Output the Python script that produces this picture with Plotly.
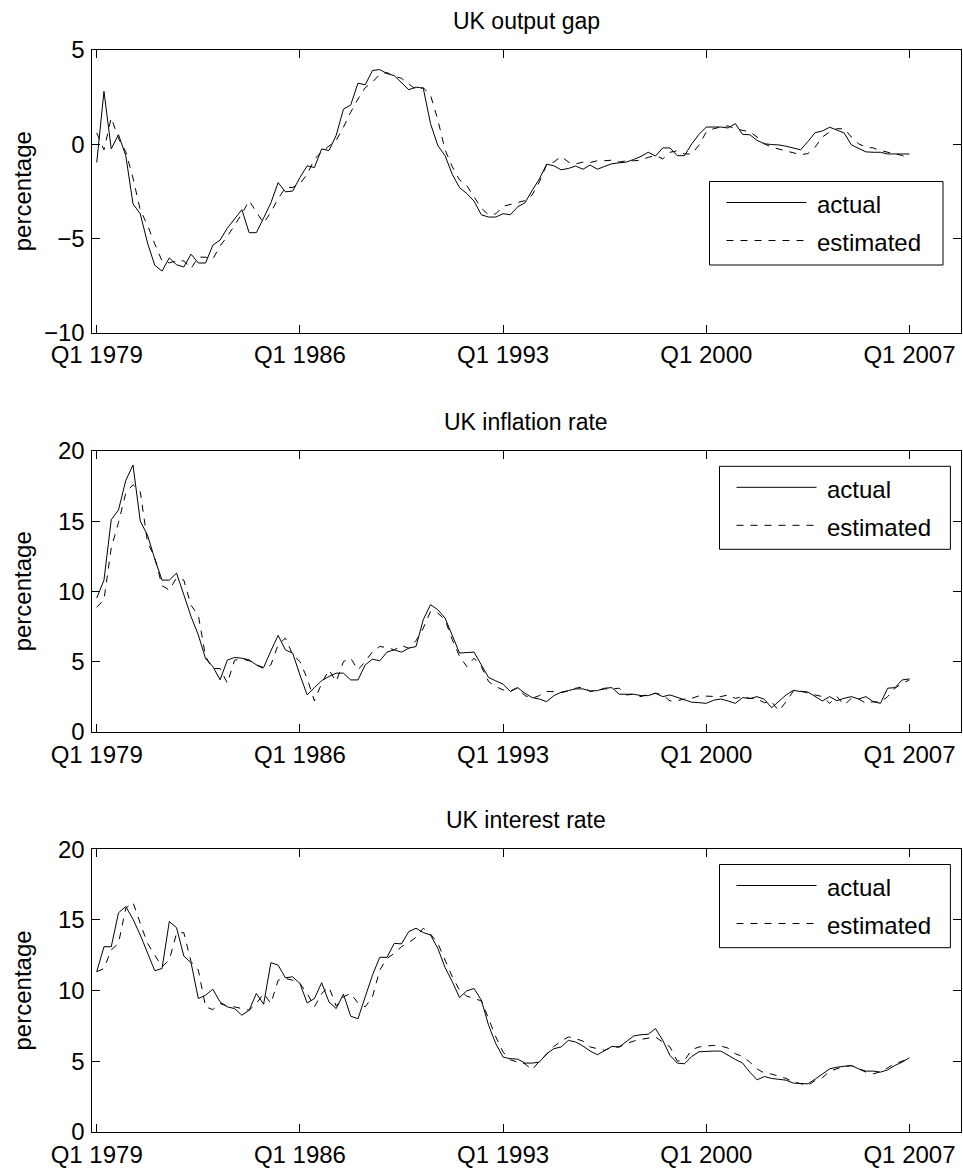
import plotly.graph_objects as go

# ---------------- data (quarterly, Q1 1979 .. Q1 2007) ----------------
quarter_index = list(range(1, 114))
tick_positions = [1, 29, 57, 85, 113]
tick_labels = ["Q1 1979", "Q1 1986", "Q1 1993", "Q1 2000", "Q1 2007"]

gap_actual = [
    -0.97, 2.8, -0.25, 0.5, -0.6, -3.17, -3.7, -5.25, -6.43, -6.74,
    -6.04, -6.4, -6.52, -5.84, -6.31, -6.31, -5.36, -5.09, -4.46, -3.96,
    -3.48, -4.7, -4.7, -3.92, -3.12, -2.04, -2.53, -2.49, -1.77, -1.15,
    -1.24, -0.25, -0.34, 0.47, 1.86, 2.08, 3.24, 3.15, 3.91, 3.96,
    3.75, 3.64, 3.24, 2.89, 3.03, 2.97, 1.09, -0.07, -0.61, -1.6,
    -2.31, -2.62, -3.03, -3.75, -3.87, -3.87, -3.69, -3.75, -3.33, -3.12,
    -2.46, -1.85, -1.06, -1.15, -1.36, -1.29, -1.16, -1.33, -1.11, -1.33,
    -1.18, -1.04, -0.99, -0.95, -0.81, -0.65, -0.43, -0.63, -0.2, -0.2,
    -0.61, -0.61, 0.02, 0.52, 0.91, 0.91, 0.91, 0.86, 1.09, 0.52,
    0.5, 0.2, 0.02, -0.02, -0.04, -0.11, -0.22, -0.3, 0.14, 0.61,
    0.7, 0.9, 0.75, 0.59, -0.04, -0.22, -0.41, -0.43, -0.43, -0.52,
    -0.52, -0.52, -0.52,
]
gap_estimated = [
    0.6, -0.3, 1.4, 0.3, -0.4, -1.8, -3.5, -4.3, -5.3, -6.2,
    -6.3, -6.2, -6.2, -6.6, -6.0, -6.0, -6.1, -5.4, -4.9, -4.3,
    -3.7, -3.0, -3.6, -4.2, -3.6, -2.9, -2.3, -2.3, -2.1, -1.6,
    -0.8, -0.4, -0.1, 0.2, 0.9, 1.7, 2.4, 3.0, 3.3, 3.7,
    3.8, 3.6, 3.5, 3.2, 2.9, 3.0, 2.6, 1.3, -0.3, -1.2,
    -1.9, -2.2, -2.8, -3.4, -3.75, -3.7, -3.3, -3.2, -3.1, -3.0,
    -2.7, -2.0, -1.1, -0.95, -0.65, -0.95, -1.05, -0.95, -0.97, -0.88,
    -0.88, -0.85, -0.95, -0.88, -0.88, -0.85, -0.7, -0.6, -0.78, -0.43,
    -0.35, -0.52, -0.52, -0.05, 0.65, 0.82, 0.91, 0.97, 0.82, 0.74,
    0.65, 0.38, 0.02, -0.16, -0.25, -0.34, -0.43, -0.56, -0.5, -0.16,
    0.38, 0.65, 0.82, 0.82, 0.38, 0.02, -0.16, -0.2, -0.34, -0.43,
    -0.48, -0.6, -0.8,
]

infl_actual = [
    9.52, 10.8, 15.1, 15.8, 17.9, 19.0, 15.0, 14.0, 12.3, 10.8,
    10.8, 11.3, 9.76, 8.2, 6.9, 5.2, 4.64, 3.7, 5.1, 5.29,
    5.24, 5.12, 4.76, 4.57, 5.76, 6.86, 5.83, 5.6, 4.05, 2.62,
    3.14, 3.64, 3.93, 4.17, 4.17, 3.69, 3.69, 4.76, 5.17, 5.05,
    5.67, 5.83, 5.67, 5.95, 6.07, 7.98, 9.05, 8.69, 8.1, 6.79,
    5.6, 5.64, 5.67, 4.76, 3.86, 3.62, 3.38, 2.86, 3.14, 2.74,
    2.43, 2.33, 2.14, 2.57, 2.81, 2.93, 3.05, 3.05, 2.9, 2.93,
    3.1, 3.14, 2.67, 2.67, 2.67, 2.57, 2.57, 2.74, 2.5, 2.62,
    2.43, 2.26, 2.1, 2.07, 2.02, 2.24, 2.33, 2.19, 2.02, 2.43,
    2.36, 2.5, 2.31, 1.71, 2.14, 2.62, 2.95, 2.86, 2.83, 2.5,
    2.19, 2.5, 2.21, 2.38, 2.5, 2.33, 2.5, 2.14, 2.02, 3.1,
    3.14, 3.69, 3.76,
]
infl_estimated = [
    8.86, 9.4, 13.1, 14.9, 17.0, 17.6, 17.1, 13.5, 12.4, 10.4,
    10.1, 10.95, 10.8, 9.0, 8.3, 5.36, 4.5, 4.5, 3.45, 5.1,
    5.2, 5.05, 4.76, 4.5, 4.76, 6.2, 6.67, 5.48, 5.0, 3.8,
    2.19, 3.45, 4.4, 3.57, 5.0, 5.24, 4.4, 5.0, 5.7, 6.07,
    6.0, 5.83, 6.14, 5.95, 6.48, 7.38, 8.57, 8.45, 7.98, 6.55,
    5.36, 4.64, 5.24, 4.64, 3.57, 3.21, 2.98, 2.9, 3.14, 2.57,
    2.38, 2.57, 2.86, 2.86, 2.79, 2.9, 3.1, 3.19, 2.86, 2.98,
    3.05, 3.05, 3.1, 2.62, 2.67, 2.5, 2.67, 2.74, 2.62, 2.19,
    2.21, 2.33, 2.38, 2.55, 2.55, 2.5, 2.5, 2.62, 2.38, 2.5,
    2.38, 2.33, 2.07, 2.14, 1.48, 2.14, 2.9, 2.9, 2.74, 2.62,
    2.5, 2.02, 2.5, 1.9, 2.38, 2.33, 2.02, 2.14, 2.1, 2.5,
    3.1, 3.45, 3.69,
]

rate_actual = [
    11.33, 13.1, 13.1, 15.5, 15.95, 15.05, 13.93, 12.63, 11.4, 11.56,
    14.88, 14.45, 12.44, 11.97, 9.43, 9.67, 10.09, 9.19, 8.84, 8.72,
    8.25, 8.6, 9.79, 9.03, 11.97, 11.8, 10.9, 10.97, 10.5, 9.12,
    9.43, 10.55, 9.19, 8.72, 9.74, 8.18, 8.0, 9.55, 11.09, 12.35,
    12.35, 13.34, 13.3, 14.17, 14.41, 14.1, 13.93, 12.99, 11.63, 10.62,
    9.5, 9.98, 10.14, 9.31, 7.54, 6.23, 5.28, 5.17, 5.14, 4.86,
    4.86, 4.93, 5.52, 5.88, 6.0, 6.47, 6.35, 6.07, 5.71, 5.45,
    5.76, 6.04, 6.0, 6.42, 6.78, 6.87, 6.9, 7.3, 6.47, 5.4,
    4.86, 4.81, 5.33, 5.66, 5.71, 5.71, 5.71, 5.4, 5.12, 4.86,
    4.22, 3.67, 3.91, 3.77, 3.7, 3.65, 3.44, 3.39, 3.39, 3.72,
    4.1, 4.45, 4.57, 4.62, 4.69, 4.45, 4.29, 4.29, 4.22, 4.38,
    4.69, 4.93, 5.24,
]
rate_estimated = [
    11.33, 11.56, 12.87, 13.34, 15.83, 16.23, 14.76, 13.34, 12.51, 11.68,
    12.16, 14.05, 14.1, 12.04, 11.45, 8.84, 8.65, 9.08, 8.89, 8.84,
    8.72, 8.6, 9.08, 9.79, 9.08, 10.73, 10.85, 10.73, 10.5, 9.79,
    8.84, 9.79, 10.26, 8.89, 9.55, 9.79, 9.12, 8.84, 9.55, 11.45,
    12.27, 12.63, 13.1, 13.39, 13.77, 14.41, 14.0, 13.34, 12.16, 10.97,
    10.02, 9.6, 9.43, 9.27, 8.01, 6.71, 5.64, 5.09, 4.93, 4.81,
    4.38, 5.0, 5.47, 6.04, 6.42, 6.71, 6.59, 6.42, 6.0, 5.88,
    5.76, 6.0, 6.0, 6.23, 6.42, 6.54, 6.61, 6.71, 6.35, 6.0,
    5.0, 5.05, 5.81, 6.0, 6.07, 6.11, 6.07, 5.92, 5.52, 5.33,
    4.93, 4.45, 4.15, 4.08, 3.93, 3.77, 3.53, 3.39, 3.27, 3.63,
    3.82, 4.29, 4.48, 4.62, 4.67, 4.45, 4.22, 4.1, 4.24, 4.53,
    4.81, 5.0, 5.17,
]

titles = ["UK output gap", "UK inflation rate", "UK interest rate"]
y_label = "percentage"
legend_labels = ["actual", "estimated"]

# ---------------- layout helpers (pixel geometry of the page) ----------------
FW, FH = 963, 1171
FONT = "Liberation Sans, Arial, Helvetica, sans-serif"
TICK_SIZE = 24
DASH = "7px,7px"

def fx(p):
    return p / FW

def fy(p):
    return 1 - p / FH

plot_left, plot_right = 91.5, 961.0
panels = [
    dict(actual=gap_actual, est=gap_estimated, yr=[-10, 5], yt=[-10, -5, 0, 5],
         top=50.0, bottom=332.5, leg=(709.5, 181.5, 943.0, 265.0)),
    dict(actual=infl_actual, est=infl_estimated, yr=[0, 20], yt=[0, 5, 10, 15, 20],
         top=451.0, bottom=731.7, leg=(719.5, 466.3, 950.4, 549.3)),
    dict(actual=rate_actual, est=rate_estimated, yr=[0, 20], yt=[0, 5, 10, 15, 20],
         top=849.3, bottom=1131.7, leg=(719.5, 864.5, 950.4, 947.7)),
]

fig = go.Figure()
shapes = []
annotations = []

for n, p in enumerate(panels, start=1):
    xa = "x" if n == 1 else f"x{n}"
    ya = "y" if n == 1 else f"y{n}"
    fig.add_trace(go.Scatter(x=quarter_index, y=p["actual"], mode="lines",
                             line=dict(color="black", width=1),
                             xaxis=xa, yaxis=ya, showlegend=False, name=legend_labels[0]))
    fig.add_trace(go.Scatter(x=quarter_index, y=p["est"], mode="lines",
                             line=dict(color="black", width=1, dash=DASH),
                             xaxis=xa, yaxis=ya, showlegend=False, name=legend_labels[1]))

    axis_common = dict(showline=True, linecolor="black", linewidth=1, mirror="ticks",
                       ticks="inside", ticklen=8, tickwidth=1, tickcolor="black",
                       showgrid=False, zeroline=False, automargin=False,
                       tickfont=dict(family=FONT, size=TICK_SIZE, color="black"))
    fig.update_layout({
        ("xaxis" if n == 1 else f"xaxis{n}"): dict(
            axis_common, domain=[fx(plot_left), fx(plot_right)], range=[0.28, 120.1],
            tickmode="array", tickvals=tick_positions, ticktext=tick_labels,
            ticklabelstandoff=1, anchor=ya),
        ("yaxis" if n == 1 else f"yaxis{n}"): dict(
            axis_common, domain=[fy(p["bottom"]), fy(p["top"])], range=p["yr"],
            tickmode="array", tickvals=p["yt"], ticklabelstandoff=1, anchor=xa),
    })

    # title
    annotations.append(dict(text=titles[n - 1], xref="paper", yref="paper",
                            x=fx((plot_left + plot_right) / 2), y=fy(p["top"] - 29),
                            xanchor="center", yanchor="middle", showarrow=False,
                            font=dict(family=FONT, size=23, color="black")))
    # y label
    annotations.append(dict(text=y_label, xref="paper", yref="paper",
                            x=fx(22), y=fy((p["top"] + p["bottom"]) / 2),
                            xanchor="center", yanchor="middle", textangle=-90,
                            showarrow=False, font=dict(family=FONT, size=24, color="black")))

    # legend box
    lx0, ly0, lx1, ly1 = p["leg"]
    shapes.append(dict(type="rect", xref="paper", yref="paper",
                       x0=fx(lx0), x1=fx(lx1), y0=fy(ly1), y1=fy(ly0),
                       line=dict(color="black", width=1), fillcolor="white", layer="above"))
    for j, lab in enumerate(legend_labels):
        yy = ly0 + 21 + j * 38
        shapes.append(dict(type="line", xref="paper", yref="paper",
                           x0=fx(lx0 + 17), x1=fx(lx0 + 97), y0=fy(yy), y1=fy(yy),
                           line=dict(color="black", width=1, dash=None if j == 0 else DASH),
                           layer="above"))
        annotations.append(dict(text=lab, xref="paper", yref="paper",
                                x=fx(lx0 + 105), y=fy(yy + 2),
                                xanchor="left", yanchor="middle", showarrow=False,
                                font=dict(family=FONT, size=24, color="black")))

fig.update_layout(
    template="none",
    width=FW, height=FH,
    margin=dict(l=0, r=0, t=0, b=0, pad=0, autoexpand=False),
    paper_bgcolor="white", plot_bgcolor="white",
    showlegend=False,
    shapes=shapes, annotations=annotations,
    font=dict(family=FONT, color="black"),
)

# remove the browser's default 8px page margin so the figure fills the window
fig.write_html(
    "out.html",
    config={"displayModeBar": False, "staticPlot": True},
    post_script="document.body.style.margin='0px';document.body.style.overflow='hidden';",
)
